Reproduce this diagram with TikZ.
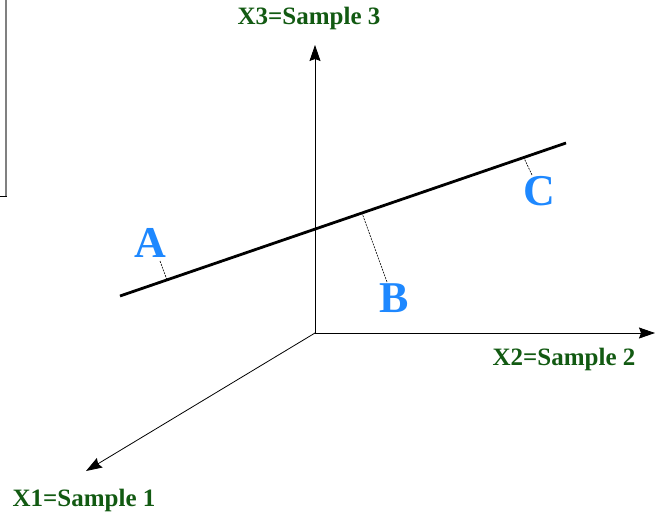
\documentclass[tikz,border=0pt]{standalone}
\usepackage{fontspec}
\setmainfont{Liberation Serif}
\usepackage{xcolor}
\usetikzlibrary{arrows.meta,positioning}
\definecolor{axisgreen}{HTML}{125A12}
\definecolor{pointblue}{HTML}{1E88FF}

\begin{document}
\begin{tikzpicture}[
  x=1pt, y=-1pt,
  every node/.style={inner sep=0pt},
  axislabel/.style={font=\fontsize{25}{28}\selectfont\bfseries, text=axisgreen},
  pointlabel/.style={font=\fontsize{44}{48}\selectfont\bfseries, text=pointblue},
  axis/.style={-{Stealth[length=16pt, width=11pt, inset=2pt]}, line width=0.8pt},
  projline/.style={line width=2.8pt},
  proj/.style={dash pattern=on 2pt off 1pt, line width=0.6pt}
]
\useasboundingbox (0,0) rectangle (655,517);

% cut-off frame at the left edge
\draw[gray, line width=1.2pt] (6,0) -- (6,196);
\draw[line width=1pt] (0,196) -- (6.6,196);

% axes
\coordinate (O) at (315,333);
\coordinate (x3end) at (315,45);
\coordinate (x2end) at (655,333);
\coordinate (x1end) at (86,471);
\draw[axis] (O) -- (x3end);
\draw[axis] (O) -- (x2end);
\draw[axis] (O) -- (x1end);

\node[axislabel] (x3lab) at (309,18) {X3=Sample 3};
\node[axislabel] (x2lab) at (564,359) {X2=Sample 2};
\node[axislabel] (x1lab) at (84,500) {X1=Sample 1};

% fitted line
\coordinate (lstart) at (120,296);
\coordinate (lend) at (566,143);
\draw[projline] (lstart) -- (lend);

% points and their projections
\node[pointlabel] (A) at (150,243) {A};
\node[pointlabel] (B) at (394,298) {B};
\node[pointlabel] (C) at (539,191) {C};
\coordinate (pA) at (160,261);
\coordinate (fA) at (167,280);
\coordinate (pB) at (387,282);
\coordinate (fB) at (362,213);
\coordinate (pC) at (532,175);
\coordinate (fC) at (524,158);
\draw[proj] (pA) -- (fA);
\draw[proj] (pB) -- (fB);
\draw[proj] (pC) -- (fC);
\end{tikzpicture}
\end{document}
